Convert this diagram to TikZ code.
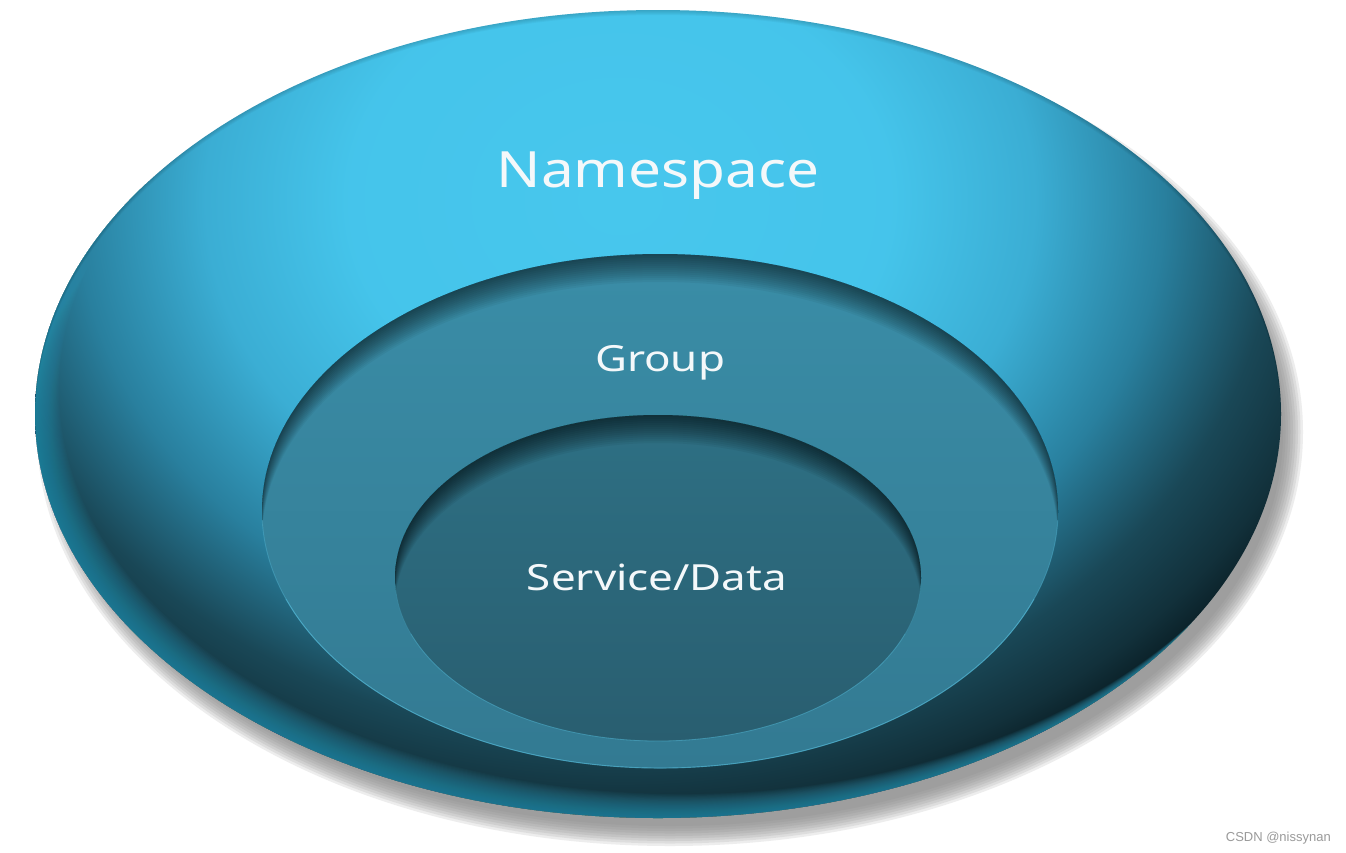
\documentclass[tikz,border=0pt]{standalone}
\usepackage{fontspec}
\setmainfont{Noto Sans}
\newfontfamily\wmfont{Liberation Sans}
\definecolor{grpTop}{HTML}{3A8DA7}
\definecolor{grpBot}{HTML}{337A92}
\definecolor{inTop}{HTML}{2E7084}
\definecolor{inBot}{HTML}{295E70}
\definecolor{grpEdge}{HTML}{58C0DF}
\definecolor{inEdge}{HTML}{4AA6C2}
\definecolor{rimLight}{HTML}{3199B8}
\definecolor{shadowgray}{HTML}{808080}
\definecolor{wmgray}{HTML}{9A9A9A}
\definecolor{txt}{HTML}{F4F8FA}
\pgfdeclareradialshading{nsshade}{\pgfpoint{0bp}{0bp}}{%
  rgb(0bp)=(0.28,0.78,0.93);
  rgb(8.5bp)=(0.27,0.77,0.92);
  rgb(13bp)=(0.23,0.68,0.83);
  rgb(17bp)=(0.16,0.50,0.62);
  rgb(20.5bp)=(0.10,0.28,0.34);
  rgb(23bp)=(0.07,0.19,0.23);
  rgb(25bp)=(0.02,0.08,0.10);
  rgb(50bp)=(0.02,0.08,0.10)}
\tikzset{
  label text/.style={text=txt, inner sep=0pt, anchor=base},
}
\begin{document}
\begin{tikzpicture}[x=1pt,y=-1pt]
\useasboundingbox (0,0) rectangle (1346,852);
\fill[white] (0,0) rectangle (1346,852);
% shadow of outer ellipse
\foreach \s in {10,7.5,...,-10}
  \fill[shadowgray,fill opacity=0.14] (670,432) ellipse [x radius=623+\s, y radius=404+\s];
% outer ellipse: Namespace
\begin{scope}
  \clip (658,414) ellipse [x radius=623, y radius=404];
  \shade[shading=nsshade] (620,200) ellipse [x radius=800, y radius=660];
  % lighter rim on the left and bottom
  \foreach \d in {1,2,...,30}
    \fill[rimLight,fill opacity=0.045,even odd rule] (0,0) rectangle (1346,852) (658+0.8*\d,414-0.8*\d) ellipse [x radius=623, y radius=404];
  % thin dark rim at the top
  \foreach \d in {1,2,...,5}
    \fill[black,fill opacity=0.03,even odd rule] (0,0) rectangle (1346,852) (658,414+\d) ellipse [x radius=623, y radius=404];
\end{scope}
% group ellipse
\begin{scope}
  \clip (660,511) ellipse [x radius=398, y radius=257];
  \shade[top color=grpTop, bottom color=grpBot] (660,511) ellipse [x radius=398, y radius=257];
  \foreach \d in {2,4,...,28}
    \fill[black,fill opacity=0.045,even odd rule] (240,230) rectangle (1080,790) (660,511+\d) ellipse [x radius=398, y radius=257];
\end{scope}
\draw[grpEdge,line width=0.9pt,opacity=0.35] (660,511) ++(2:398 and 257) arc [start angle=2, end angle=178, x radius=398, y radius=257];
\draw[grpEdge,line width=0.9pt,opacity=0.5] (660,511) ++(20:398 and 257) arc [start angle=20, end angle=160, x radius=398, y radius=257];
% inner ellipse
\begin{scope}
  \clip (658,578) ellipse [x radius=263, y radius=163];
  \shade[top color=inTop, bottom color=inBot] (658,578) ellipse [x radius=263, y radius=163];
  \foreach \d in {2,4,...,28}
    \fill[black,fill opacity=0.05,even odd rule] (380,400) rectangle (940,760) (658,578+\d) ellipse [x radius=263, y radius=163];
\end{scope}
\draw[inEdge,line width=0.8pt,opacity=0.35] (658,578) ++(2:263 and 163) arc [start angle=2, end angle=178, x radius=263, y radius=163];
\draw[inEdge,line width=0.8pt,opacity=0.5] (658,578) ++(20:263 and 163) arc [start angle=20, end angle=160, x radius=263, y radius=163];
% labels
\node[label text, font=\fontsize{50}{60}\selectfont] (ns) at (658,187) {\scalebox{1.17}[1]{Namespace}};
\node[label text, font=\fontsize{36}{44}\selectfont] (grp) at (660,371) {\scalebox{1.22}[1]{Group}};
\node[label text, font=\fontsize{36}{44}\selectfont] (svc) at (657,590) {\scalebox{1.22}[1]{Service/Data}};
\node[text=wmgray, inner sep=0pt, anchor=base east, font=\wmfont\fontsize{13}{15}\selectfont] (wm) at (1331,841) {CSDN @nissynan};
\end{tikzpicture}
\end{document}
